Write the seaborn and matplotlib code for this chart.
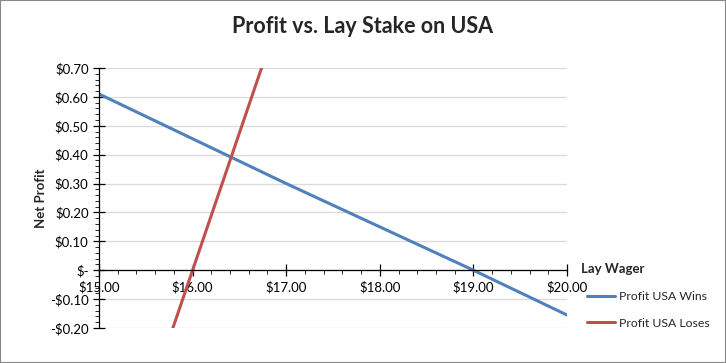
import numpy as np
import pandas as pd
import matplotlib
matplotlib.use("Agg")
import matplotlib.pyplot as plt
from matplotlib.ticker import FuncFormatter, MultipleLocator
import seaborn as sns

# values
lay_wager = [15, 16, 17, 18, 19, 20]
profit_usa_wins = [0.61, 0.455, 0.30, 0.15, 0.00, -0.155]
profit_usa_loses = [-0.95, 0.00, 0.95, 1.90, 2.85, 3.80]
series_names = ["Profit USA Wins", "Profit USA Loses"]

df = pd.concat([
    pd.DataFrame({"wager": lay_wager, "profit": profit_usa_wins, "series": series_names[0]}),
    pd.DataFrame({"wager": lay_wager, "profit": profit_usa_loses, "series": series_names[1]}),
])

sns.set_style("white")
plt.rcParams["font.family"] = ["Lato", "DejaVu Sans"]

fig = plt.figure(figsize=(7.26, 3.63), dpi=100)
ax = fig.add_axes([99 / 726, 1 - 328 / 363, (567 - 99) / 726, (328 - 68) / 363])

sns.lineplot(data=df, x="wager", y="profit", hue="series",
             palette=["#4F81BD", "#C0504D"], linewidth=2.2, ax=ax)

ax.set_xlim(15, 20)
ax.set_ylim(-0.2, 0.7)

ax.yaxis.set_major_locator(MultipleLocator(0.1))
ax.yaxis.set_minor_locator(MultipleLocator(0.02))
ax.xaxis.set_major_locator(MultipleLocator(1))
ax.xaxis.set_minor_locator(MultipleLocator(0.2))


def money(v, pos):
    if abs(v) < 1e-9:
        return "$-"
    if v < 0:
        return f"-${abs(v):.2f}"
    return f"${v:.2f}"


ax.yaxis.set_major_formatter(FuncFormatter(money))
ax.xaxis.set_major_formatter(FuncFormatter(lambda v, p: f"${v:.2f}"))

ax.grid(axis="y", color="#d9d9d9", linewidth=0.9)
ax.set_axisbelow(True)
for s in ["top", "right"]:
    ax.spines[s].set_visible(False)
ax.spines["bottom"].set_position(("data", 0))
ax.spines["bottom"].set_color("black")
ax.spines["left"].set_color("black")
ax.spines["bottom"].set_linewidth(0.9)
ax.spines["left"].set_linewidth(0.9)

ax.tick_params(axis="both", which="major", direction="inout", length=8, width=0.9,
               labelsize=9.5, colors="black", bottom=True, left=True)
ax.tick_params(axis="both", which="minor", direction="out", length=3, width=0.7,
               bottom=True, left=True)
ax.tick_params(axis="x", which="major", pad=4)

ax.set_xlabel("")
ax.set_ylabel("Net Profit", fontsize=9.5, fontweight="bold", labelpad=2)
ax.text(1.03, 0.205, "Lay Wager", transform=ax.transAxes, fontsize=9.5,
        fontweight="bold", ha="left", va="bottom")

fig.suptitle("Profit vs. Lay Stake on USA", fontsize=15.5, fontweight="bold", y=0.955)

handles, labels = ax.get_legend_handles_labels()
ax.legend(handles, labels, loc="center left", bbox_to_anchor=(1.02, 0.07),
          frameon=False, fontsize=8.8, handlelength=2.3, handletextpad=0.3,
          labelspacing=1.3)

fig.patches.append(plt.Rectangle((0, 0), 1, 1, transform=fig.transFigure,
                                 fill=False, edgecolor="#878787", linewidth=1.5))

fig.savefig("out.png", dpi=100)
